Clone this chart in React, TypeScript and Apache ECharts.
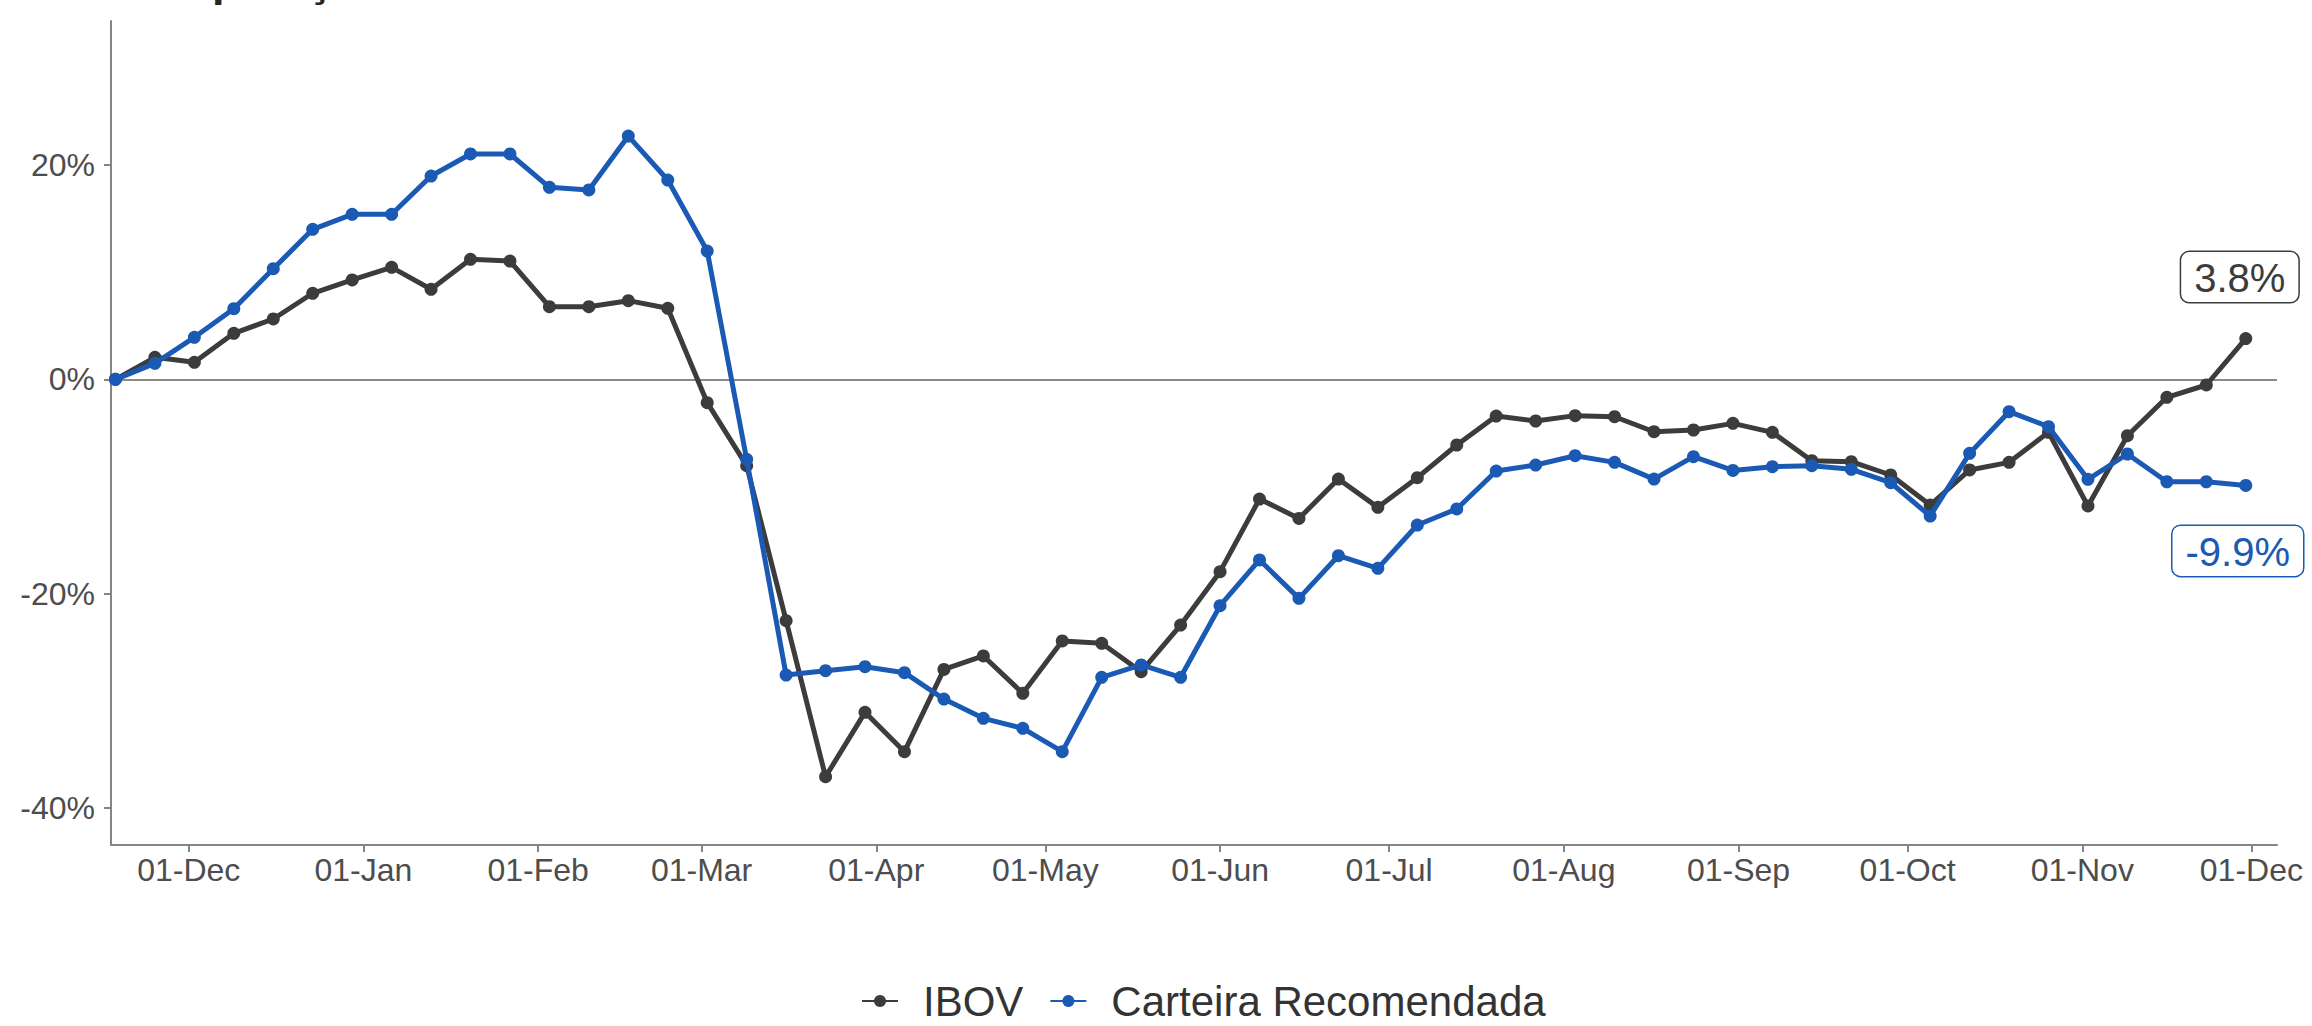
import React, { useEffect, useRef } from "react";
import * as echarts from "echarts";

// Weekly observation dates
const dates: string[] = [
  "2019-11-18", "2019-11-25", "2019-12-02", "2019-12-09", "2019-12-16", "2019-12-23", "2019-12-30",
  "2020-01-06", "2020-01-13", "2020-01-20", "2020-01-27", "2020-02-03", "2020-02-10", "2020-02-17",
  "2020-02-24", "2020-03-02", "2020-03-09", "2020-03-16", "2020-03-23", "2020-03-30", "2020-04-06",
  "2020-04-13", "2020-04-20", "2020-04-27", "2020-05-04", "2020-05-11", "2020-05-18", "2020-05-25",
  "2020-06-01", "2020-06-08", "2020-06-15", "2020-06-22", "2020-06-29", "2020-07-06", "2020-07-13",
  "2020-07-20", "2020-07-27", "2020-08-03", "2020-08-10", "2020-08-17", "2020-08-24", "2020-08-31",
  "2020-09-07", "2020-09-14", "2020-09-21", "2020-09-28", "2020-10-05", "2020-10-12", "2020-10-19",
  "2020-10-26", "2020-11-02", "2020-11-09", "2020-11-16", "2020-11-23", "2020-11-30",
];

// IBOV cumulative return (%)
const ibov: number[] = [
  0, 2.05, 1.59, 4.29, 5.63, 8.03, 9.27,
  10.45, 8.4, 11.2, 11.04, 6.78, 6.78, 7.34,
  6.63, -2.18, -8.06, -22.53, -37.09, -31.08, -34.75,
  -27.07, -25.82, -29.3, -24.42, -24.64, -27.29, -22.93,
  -17.95, -11.17, -12.98, -9.31, -11.95, -9.18, -6.13,
  -3.43, -3.89, -3.39, -3.49, -4.89, -4.73, -4.11,
  -4.95, -7.6, -7.69, -8.93, -11.73, -8.46, -7.75,
  -4.95, -11.82, -5.26, -1.68, -0.53, 3.8,
];

// Carteira Recomendada cumulative return (%)
const carteira: number[] = [
  0, 1.49, 3.92, 6.59, 10.32, 14.0, 15.4,
  15.4, 18.97, 21.03, 21.03, 17.92, 17.67, 22.7,
  18.6, 11.97, -7.47, -27.6, -27.19, -26.82, -27.38,
  -29.84, -31.64, -32.57, -34.75, -27.81, -26.66, -27.81,
  -21.13, -16.86, -20.44, -16.46, -17.64, -13.6, -12.1,
  -8.56, -8.0, -7.13, -7.75, -9.31, -7.22, -8.5,
  -8.15, -8.06, -8.4, -9.65, -12.76, -6.91, -3.02,
  -4.42, -9.33, -6.97, -9.56, -9.56, -9.9,
];

const seriesNames: string[] = ["IBOV", "Carteira Recomendada"];
const monthTicks: string[] = [
  "2019-12-01", "2020-01-01", "2020-02-01", "2020-03-01", "2020-04-01", "2020-05-01", "2020-06-01",
  "2020-07-01", "2020-08-01", "2020-09-01", "2020-10-01", "2020-11-01", "2020-12-01",
];
const monthAbbr: string[] = ["Jan", "Feb", "Mar", "Apr", "May", "Jun", "Jul", "Aug", "Sep", "Oct", "Nov", "Dec"];
const yTicks: number[] = [-40, -20, 0, 20];
const titleText = "Comparação";

const FONT = '"Liberation Sans", Arial, sans-serif';
const GRAY = "#3c3c3c";
const BLUE = "#1a5ab4";

function buildData(values: number[], color: string, labelDistance: number, labelOffset: number[], pos: string) {
  return values.map((v, i) => {
    const ts = Date.parse(dates[i]);
    if (i === values.length - 1) {
      return {
        value: [ts, v],
        label: {
          show: true,
          position: pos,
          distance: labelDistance,
          offset: labelOffset,
          formatter: () => v.toFixed(1) + "%",
          fontSize: 40,
          fontFamily: FONT,
          color: color,
          backgroundColor: "#ffffff",
          borderColor: color,
          borderWidth: 1.5,
          borderRadius: 8,
          padding: [6, 13, 4, 13],
        },
      };
    }
    return [ts, v];
  });
}

export default function App() {
  const ref = useRef<HTMLDivElement>(null);

  useEffect(() => {
    if (!ref.current) return;
    const chart = echarts.init(ref.current, undefined, { renderer: "svg" });
    const tickVals = monthTicks.map((d) => Date.parse(d));
    const option: any = {
      animation: false,
      backgroundColor: "#ffffff",
      grid: { left: 111, right: 35, top: 21, bottom: 181, containLabel: false },
      graphic: [
        {
          type: "text",
          x: 112,
          y: -20,
          silent: true,
          style: {
            text: titleText,
            font: 'bold 45px "Liberation Sans", Arial, sans-serif',
            fill: "#262626",
            verticalAlign: "middle",
            align: "left",
          },
        },
      ],
      legend: {
        data: seriesNames,
        left: 861,
        top: 978,
        padding: 0,
        itemWidth: 36,
        itemHeight: 15,
        itemGap: 26,
        textStyle: { fontSize: 42, lineHeight: 46, color: "#333333", fontFamily: FONT, padding: [0, 0, 0, 20] },
      },
      xAxis: {
        type: "value",
        min: Date.UTC(2019, 10, 17, 5),
        max: Date.UTC(2020, 11, 5, 13),
        axisLine: { show: true, onZero: false, lineStyle: { color: "#858585", width: 2 } },
        axisTick: { show: true, length: 7, customValues: tickVals, lineStyle: { color: "#858585", width: 2 } },
        axisLabel: {
          customValues: tickVals,
          margin: 9,
          fontSize: 32,
          fontFamily: FONT,
          color: "#4d4d4d",
          formatter: (val: number) => {
            const d = new Date(val);
            return String(d.getUTCDate()).padStart(2, "0") + "-" + monthAbbr[d.getUTCMonth()];
          },
        },
        splitLine: { show: false },
      },
      yAxis: {
        type: "value",
        min: -43.46,
        max: 33.44,
        axisLine: { show: true, lineStyle: { color: "#858585", width: 2 } },
        axisTick: { show: true, length: 7, customValues: yTicks, lineStyle: { color: "#858585", width: 2 } },
        axisLabel: {
          customValues: yTicks,
          margin: 16,
          fontSize: 32,
          fontFamily: FONT,
          color: "#4d4d4d",
          formatter: (v: number) => `${v}%`,
        },
        splitLine: { show: false },
      },
      series: [
        {
          name: seriesNames[0],
          type: "line",
          data: buildData(ibov, GRAY, 30, [-6, 0], "top"),
          color: GRAY,
          lineStyle: { width: 5, color: GRAY },
          itemStyle: { color: GRAY },
          symbol: "circle",
          symbolSize: 13,
          showSymbol: true,
          showAllSymbol: true,
          z: 3,
          markLine: {
            silent: true,
            symbol: ["none", "none"],
            label: { show: false },
            lineStyle: { color: "#8a8a8a", width: 2, type: "solid" },
            data: [{ yAxis: 0 }],
            z: 1,
          },
        },
        {
          name: seriesNames[1],
          type: "line",
          data: buildData(carteira, BLUE, 34, [-8, 0], "bottom"),
          color: BLUE,
          lineStyle: { width: 5, color: BLUE },
          itemStyle: { color: BLUE },
          symbol: "circle",
          symbolSize: 13,
          showSymbol: true,
          showAllSymbol: true,
          z: 4,
        },
      ],
    };
    chart.setOption(option);
    return () => chart.dispose();
  }, []);

  return (
    <div
      ref={ref}
      style={{ position: "fixed", left: 0, top: 0, width: 2312, height: 1026, background: "#fff" }}
    />
  );
}
